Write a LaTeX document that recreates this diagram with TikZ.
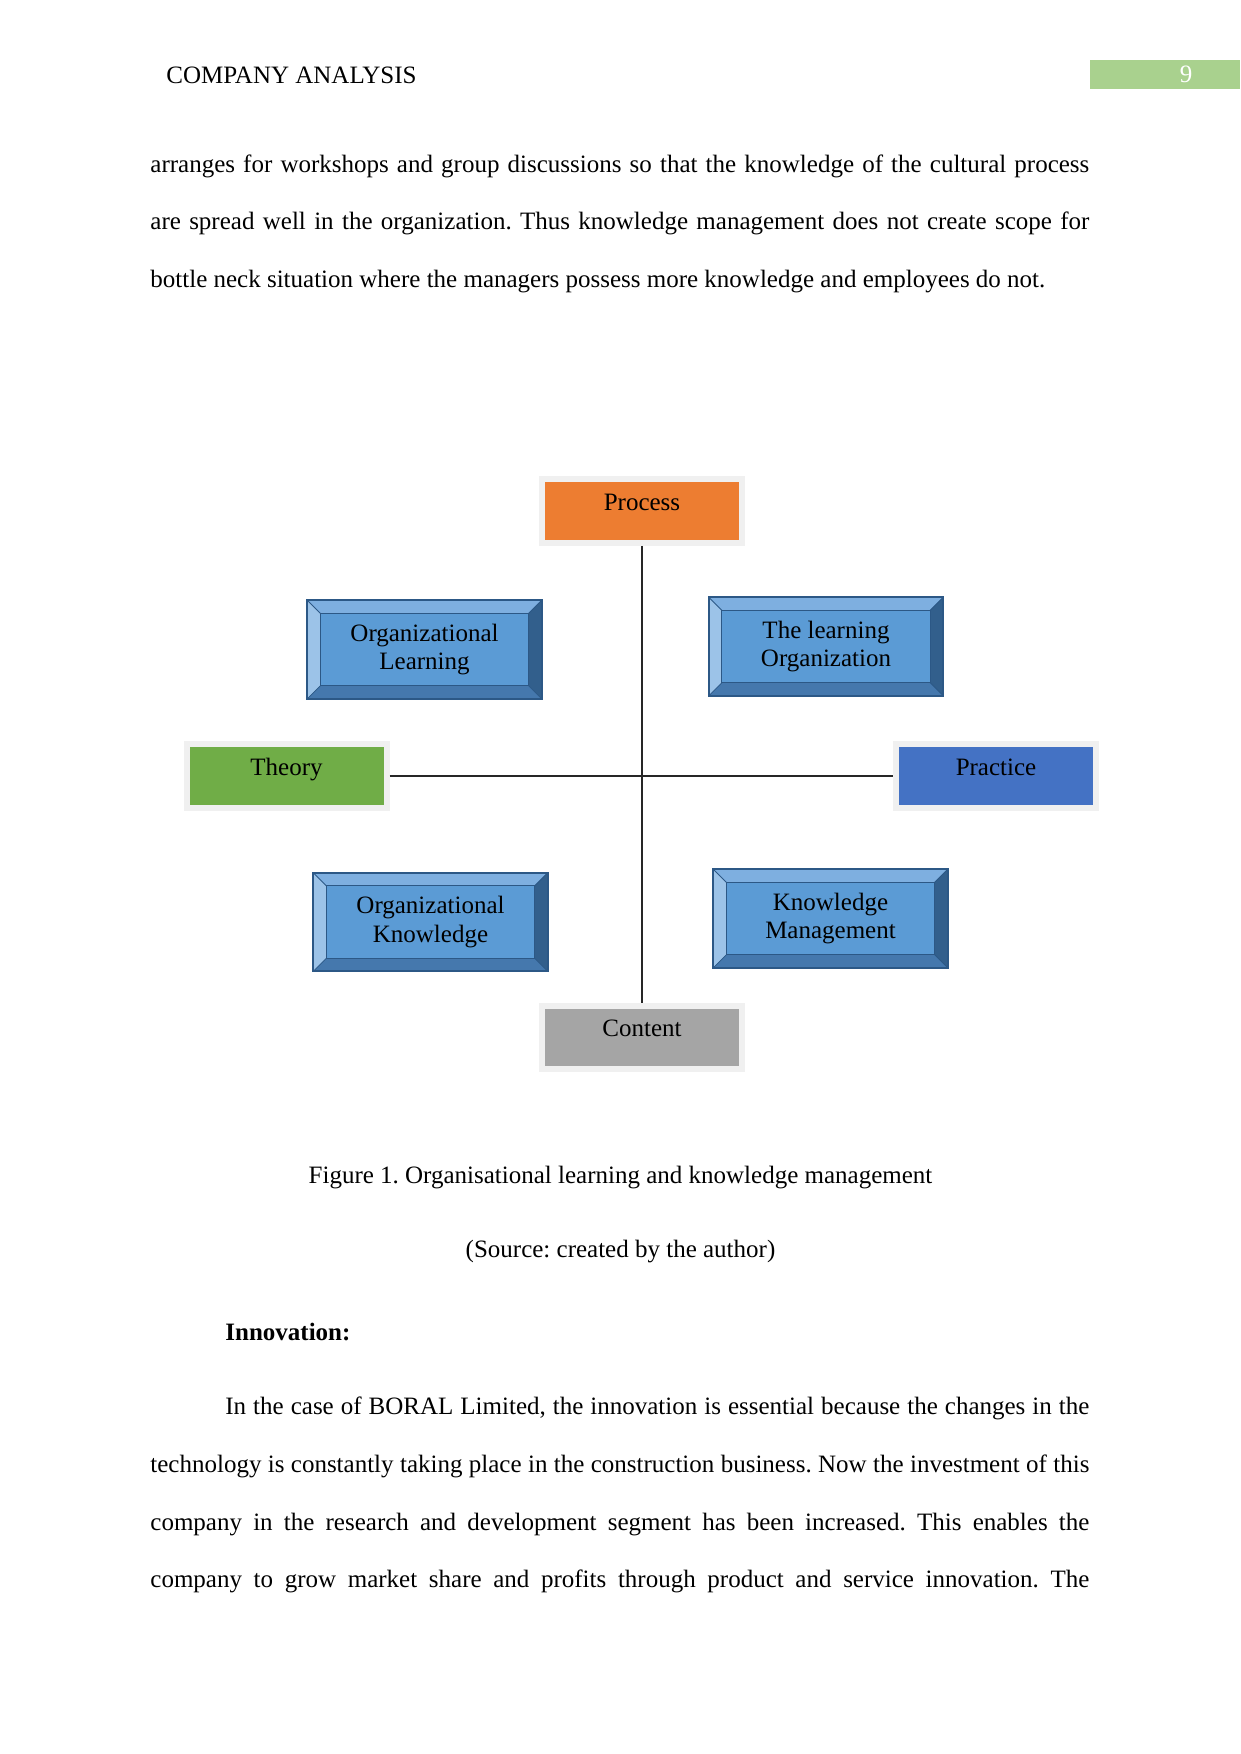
\documentclass[tikz,border=0pt]{standalone}
\usepackage{fontspec}
\setmainfont{Liberation Serif}
\usetikzlibrary{positioning}
\frenchspacing

\definecolor{procorange}{HTML}{ED7D31}
\definecolor{theorygreen}{HTML}{70AD47}
\definecolor{practiceblue}{HTML}{4472C4}
\definecolor{contentgray}{HTML}{A5A5A5}
\definecolor{glowgray}{HTML}{F0F0F0}
\definecolor{faceblue}{HTML}{5B9BD5}
\definecolor{bevtop}{HTML}{7EAFE0}
\definecolor{bevleft}{HTML}{9CC3E8}
\definecolor{bevright}{HTML}{325F8C}
\definecolor{bevbottom}{HTML}{4578AD}
\definecolor{bevedge}{HTML}{2C5886}
\definecolor{pagegreen}{HTML}{A9D18E}

\begin{document}
\begin{tikzpicture}[
            x=0.48pt, y=-0.48pt,
            flat/.style={fill=#1, draw=glowgray, line width=2.88pt,
                        minimum width=96pt, minimum height=30.7pt, inner sep=0pt,
                        text height=14.9pt, text depth=15.8pt, font=\fontsize{12}{14}\selectfont},
            bevel/.style={fill=faceblue, draw=bevedge, line width=0.9pt,
                        minimum width=112.4pt, minimum height=47.2pt, inner sep=0pt,
                        align=center, font=\fontsize{12}{13.8}\selectfont,
                        path picture={
                            \fill[bevtop] (path picture bounding box.north west) -- (path picture bounding box.north east)
                                -- ([shift={(-6.2pt,-6.2pt)}]path picture bounding box.north east)
                                -- ([shift={(6.2pt,-6.2pt)}]path picture bounding box.north west) -- cycle;
                            \fill[bevleft] (path picture bounding box.north west) -- (path picture bounding box.south west)
                                -- ([shift={(6.2pt,6.2pt)}]path picture bounding box.south west)
                                -- ([shift={(6.2pt,-6.2pt)}]path picture bounding box.north west) -- cycle;
                            \fill[bevright] (path picture bounding box.north east) -- (path picture bounding box.south east)
                                -- ([shift={(-6.2pt,6.2pt)}]path picture bounding box.south east)
                                -- ([shift={(-6.2pt,-6.2pt)}]path picture bounding box.north east) -- cycle;
                            \fill[bevbottom] (path picture bounding box.south west) -- (path picture bounding box.south east)
                                -- ([shift={(-6.2pt,6.2pt)}]path picture bounding box.south east)
                                -- ([shift={(6.2pt,6.2pt)}]path picture bounding box.south west) -- cycle;
                            \draw[bevedge, line width=0.6pt]
                                ([shift={(6.2pt,-6.2pt)}]path picture bounding box.north west) rectangle
                                ([shift={(-6.2pt,6.2pt)}]path picture bounding box.south east);
                            \draw[bevedge, line width=0.4pt]
                                (path picture bounding box.north west) -- ++(6.2pt,-6.2pt)
                                (path picture bounding box.north east) -- ++(-6.2pt,-6.2pt)
                                (path picture bounding box.south west) -- ++(6.2pt,6.2pt)
                                (path picture bounding box.south east) -- ++(-6.2pt,6.2pt);
                        }},
            link/.style={draw=black!85, line width=0.6pt},
            body/.style={anchor=base west, inner sep=0pt, font=\fontsize{12}{14}\selectfont}
        ]
        \useasboundingbox (0,0) rectangle (1241,1754);

        % running head
        \node[body] (head) at (166,83) {COMPANY ANALYSIS};
        \fill[pagegreen] (1090,60) rectangle (1240,89);
        \node[body, anchor=base, text=white] (pageno) at (1186,82) {9};

        % text above the figure
        \node[body] (parA1) at (150,172) {\makebox[450.7pt][s]{arranges for workshops and group discussions so that the knowledge of the cultural process}};
        \node[body] (parA2) at (150,229.5) {\makebox[450.7pt][s]{are spread well in the organization. Thus knowledge management does not create scope for}};
        \node[body] (parA3) at (150,287) {bottle neck situation where the managers possess more knowledge and employees do not.};

        % the four poles
        \node[flat=procorange] (process) at (642,511) {Process};
        \node[flat=theorygreen] (theory) at (286.5,776) {Theory};
        \node[flat=practiceblue] (practice) at (996,776) {Practice};
        \node[flat=contentgray] (content) at (642,1037.5) {Content};

        % axes
        \draw[link] (process) -- (content);
        \draw[link] (theory) -- (practice);

        % the four quadrants
        \node[bevel] (orglearn) at (424.5,649.5) {Organizational\\Learning};
        \node[bevel] (learnorg) at (826,646.5) {The learning\\Organization};
        \node[bevel] (orgknow) at (430.5,922) {Organizational\\Knowledge};
        \node[bevel] (knowmgmt) at (830.5,918.5) {Knowledge\\Management};

        % caption
        \node[body, anchor=base] (caption) at (620.5,1183) {Figure 1. Organisational learning and knowledge management};
        \node[body, anchor=base] (source) at (620.5,1257) {(Source: created by the author)};

        % text below the figure
        \node[body, font=\fontsize{12}{14}\selectfont\bfseries] (innov) at (225,1340) {Innovation:};
        \node[body] (parB1) at (225,1414) {\makebox[414.7pt][s]{In the case of BORAL Limited, the innovation is essential because the changes in the}};
        \node[body] (parB2) at (150,1472) {\makebox[450.7pt][s]{technology is constantly taking place in the construction business. Now the investment of this}};
        \node[body] (parB3) at (150,1530) {\makebox[450.7pt][s]{company in the research and development segment has been increased. This enables the}};
        \node[body] (parB4) at (150,1587) {\makebox[450.7pt][s]{company to grow market share and profits through product and service innovation. The}};
\end{tikzpicture}
\end{document}
